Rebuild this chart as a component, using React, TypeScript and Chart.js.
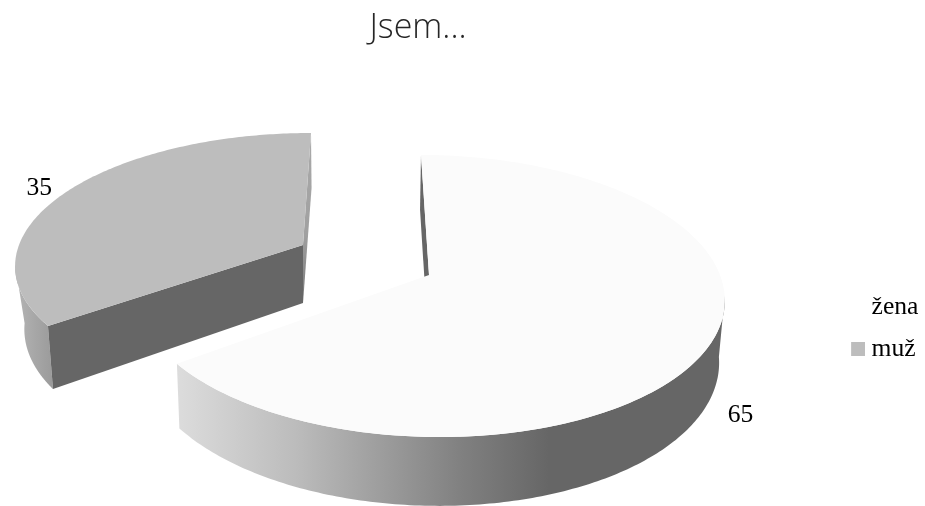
import React, { useEffect, useRef } from "react";
import { Chart, registerables } from "chart.js";

Chart.register(...registerables);

const titleText = "Jsem...";
const categories = ["žena", "muž"];
const percentages = [65, 35];
const sliceColors = ["#fbfbfb", "#bdbdbd"];
const legendColors = ["#ffffff", "#bdbdbd"];

type Ring = { cx: number; cy: number; a: number; b: number; c: number; k: number };
type Solid = { top: Ring; bottom: Ring };

// Perspective rings for the upper and lower rim of each exploded slice.
const solids: Solid[] = [
  {
    top: { cx: 429, cy: 275, a: 291, b: 137.9, c: 9.2, k: 0.149 },
    bottom: { cx: 428, cy: 335, a: 286, b: 144.4, c: 9.2, k: 0.155 },
  },
  {
    top: { cx: 303, cy: 245, a: 284, b: 126.9, c: -9.06, k: 0.133 },
    bottom: { cx: 303, cy: 303, a: 273.5, b: 133, c: -9.9, k: 0.156 },
  },
];

function project(r: Ring, angle: number) {
  const u = Math.cos(angle);
  const v = Math.sin(angle);
  const d = 1 - r.k * v;
  return { x: r.cx + (r.a * u + r.c * v) / d, y: r.cy + (r.b * v) / d };
}

function arcPoints(r: Ring, from: number, to: number) {
  const steps = 160;
  const pts = [];
  for (let i = 0; i <= steps; i++) pts.push(project(r, from + ((to - from) * i) / steps));
  return pts;
}

function fillPoly(ctx: CanvasRenderingContext2D, pts: { x: number; y: number }[], fill: string | CanvasGradient) {
  ctx.beginPath();
  pts.forEach((p, i) => (i ? ctx.lineTo(p.x, p.y) : ctx.moveTo(p.x, p.y)));
  ctx.closePath();
  ctx.fillStyle = fill;
  ctx.fill();
}

function ramp(ctx: CanvasRenderingContext2D, x0: number, y0: number, x1: number, y1: number, stops: [number, string][]) {
  const g = ctx.createLinearGradient(x0, y0, x1, y1);
  stops.forEach(([o, c]) => g.addColorStop(o, c));
  return g;
}

const apex = (r: Ring) => ({ x: r.cx, y: r.cy });

function outerWall(ctx: CanvasRenderingContext2D, s: Solid, from: number, to: number, fill: CanvasGradient) {
  fillPoly(ctx, [...arcPoints(s.top, from, to), ...arcPoints(s.bottom, from, to).reverse()], fill);
}

function drawLarge(ctx: CanvasRenderingContext2D, s: Solid, start: number, end: number, color: string) {
  fillPoly(ctx, [project(s.top, start), project(s.bottom, start), apex(s.bottom), apex(s.top)], "#666666");
  // Only the near part of the rim wall can be seen from above.
  outerWall(
    ctx,
    s,
    0.15,
    end,
    ramp(ctx, 178, 0, 724, 0, [
      [0, "#dcdcdc"],
      [0.22, "#bbbbbb"],
      [0.52, "#808080"],
      [0.68, "#666666"],
      [1, "#666666"],
    ])
  );
  fillPoly(ctx, [apex(s.top), ...arcPoints(s.top, start, end)], color);
}

function drawSmall(ctx: CanvasRenderingContext2D, s: Solid, start: number, end: number, color: string) {
  outerWall(
    ctx,
    s,
    start,
    Math.PI - 0.15,
    ramp(ctx, 16, 0, 55, 0, [
      [0, "#b4b4b4"],
      [1, "#999999"],
    ])
  );
  fillPoly(
    ctx,
    [project(s.top, end), project(s.bottom, end), apex(s.bottom), apex(s.top)],
    ramp(ctx, 0, 133, 0, 303, [
      [0, "#aaaaaa"],
      [0.6, "#a0a0a0"],
      [1, "#777777"],
    ])
  );
  fillPoly(ctx, [project(s.top, start), project(s.bottom, start), apex(s.bottom), apex(s.top)], "#666666");
  fillPoly(ctx, [apex(s.top), ...arcPoints(s.top, start, end)], color);
}

const pie3d = {
  id: "pie3d",
  beforeDatasetDraw(chart: any, args: any) {
    const ctx = chart.ctx as CanvasRenderingContext2D;
    const arcs = args.meta.data;
    ctx.save();
    [1, 0].forEach((i) => {
      const { startAngle, endAngle, options } = arcs[i];
      (i === 0 ? drawLarge : drawSmall)(ctx, solids[i], startAngle, endAngle, options.backgroundColor);
    });
    // Value labels sit just outside the rim at each slice's mid angle.
    ctx.font = "25.6px 'Liberation Serif'";
    ctx.fillStyle = "#000000";
    ctx.textAlign = "center";
    ctx.textBaseline = "middle";
    const dataset = chart.data.datasets[0];
    [0, 1].forEach((i) => {
      const mid = (arcs[i].startAngle + arcs[i].endAngle) / 2;
      const edge = project(i === 0 ? solids[i].bottom : solids[i].top, mid);
      const shift = i === 0 ? { x: 34, y: 10 } : { x: -29, y: -2 };
      ctx.fillText(String(dataset.data[i]), edge.x + shift.x, edge.y + shift.y);
    });
    ctx.restore();
    return false;
  },
};

// Legend swatch with transparent margin so the label sits close to the square.
function swatch(color: string) {
  const c = document.createElement("canvas");
  c.width = 20;
  c.height = 14;
  const g = c.getContext("2d") as CanvasRenderingContext2D;
  g.fillStyle = color;
  g.fillRect(6, 0, 14, 14);
  return c;
}

export default function App() {
  const ref = useRef<HTMLCanvasElement>(null);
  useEffect(() => {
    if (!ref.current) return;
    const chart = new Chart(ref.current, {
      type: "pie",
      data: {
        labels: categories,
        datasets: [{ data: percentages, backgroundColor: sliceColors, borderWidth: 0 }],
      },
      plugins: [pie3d],
      options: {
        responsive: false,
        animation: false,
        rotation: 0,
        layout: { padding: { left: 1, right: -3.4, top: 0, bottom: 128 } },
        plugins: {
          tooltip: { enabled: false },
          title: {
            display: true,
            text: titleText,
            fullSize: false,
            color: "#262626",
            font: { family: "'Open Sans'", size: 34, weight: "300" },
            padding: { top: 8, bottom: 10 },
          },
          legend: {
            position: "right",
            align: "end",
            labels: {
              color: "#000000",
              font: { family: "'Liberation Serif'", size: 25.6 },
              padding: 16.4,
              usePointStyle: true,
              pointStyleWidth: 7.2,
              generateLabels(c: any) {
                const items = (Chart as any).overrides.pie.plugins.legend.labels.generateLabels(c);
                return items.map((it: any, i: number) => ({
                  ...it,
                  pointStyle: swatch(legendColors[i]),
                  lineWidth: 0,
                }));
              },
            },
          },
        },
      } as any,
    });
    return () => chart.destroy();
  }, []);
  return (
    <div style={{ position: "absolute", left: 0, top: 0, width: 925, height: 506, background: "#ffffff" }}>
      <canvas ref={ref} width={925} height={506} style={{ display: "block" }} />
    </div>
  );
}
